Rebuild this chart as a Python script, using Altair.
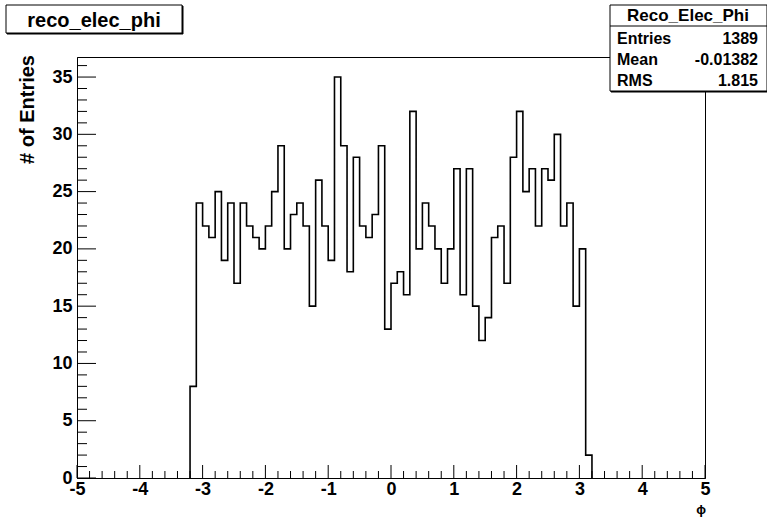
import altair as alt
import pandas as pd

# ---- data ----
bin_start = -3.2
bin_width = 0.1
counts = [8, 24, 22, 21, 25, 19, 24, 17, 24, 22, 21, 20, 22, 25, 29, 20,
          23, 24, 22, 15, 26, 22, 19, 35, 29, 18, 28, 22, 21, 23, 29, 13,
          17, 18, 16, 32, 20, 24, 22, 20, 17, 20, 27, 16, 27, 15, 12, 14,
          21, 22, 17, 28, 32, 25, 27, 22, 27, 26, 30, 22, 24, 15, 20, 2]

x_major = [-5, -4, -3, -2, -1, 0, 1, 2, 3, 4, 5]
y_major = [0, 5, 10, 15, 20, 25, 30, 35]
x_minor = [round(-5 + 0.2 * i, 1) for i in range(51) if i % 5 != 0]
y_minor = [k for k in range(0, 37) if k % 5 != 0]

hist_title = "reco_elec_phi"
stats_name = "Reco_Elec_Phi"
stats_labels = ["Entries", "Mean", "RMS"]
stats_values = ["1389", "-0.01382", "1.815"]

# ---- build step outline ----
edges = [round(bin_start + bin_width * i, 1) for i in range(len(counts) + 1)]
xs = [edges[0]] + edges[:-1] + [edges[-1]]
ys = [0] + counts + [0]
hist = pd.DataFrame({"x": xs, "y": ys, "i": list(range(len(xs)))})

W, H = 628, 421
FONT = "Liberation Sans"

xscale = alt.Scale(domain=[-5, 5], nice=False, zero=False)
yscale = alt.Scale(domain=[0, 36.75], nice=False, zero=False)

one = pd.DataFrame({"a": [0]})

axis_common = dict(ticks=False, labelFlush=False, labelOverlap=False,
                   labelFont=FONT, labelFontWeight="bold", labelFontSize=18,
                   labelColor="black", domainColor="black", grid=False,
                   labelExpr="'' + datum.value")

line = alt.Chart(hist).mark_line(
    interpolate="step-after", color="black", strokeWidth=1.6
).encode(
    x=alt.X("x:Q", scale=xscale, title=None,
            axis=alt.Axis(values=x_major, labelPadding=2, **axis_common)),
    y=alt.Y("y:Q", scale=yscale, title=None,
            axis=alt.Axis(values=y_major, labelPadding=5, **axis_common)),
    order="i:Q",
)

def xticks(vals, length):
    return alt.Chart(pd.DataFrame({"v": vals})).mark_rule(color="black", strokeWidth=1).encode(
        x=alt.X("v:Q", scale=xscale), y=alt.value(H), y2=alt.value(H - length))

def yticks(vals, length):
    return alt.Chart(pd.DataFrame({"v": vals})).mark_rule(color="black", strokeWidth=1).encode(
        y=alt.Y("v:Q", scale=yscale), x=alt.value(0), x2=alt.value(length))

def box(x1, x2, y1, y2, fill="white", stroke="black", sw=1):
    return alt.Chart(one).mark_rect(fill=fill, stroke=stroke, strokeWidth=sw).encode(
        x=alt.value(x1), x2=alt.value(x2), y=alt.value(y1), y2=alt.value(y2))

def label(text, x, y, size, align="center", baseline="alphabetic", angle=0):
    return alt.Chart(one).mark_text(
        text=text, font=FONT, fontWeight="bold", fontSize=size, color="black",
        align=align, baseline=baseline, angle=angle
    ).encode(x=alt.value(x), y=alt.value(y))

# title box (with small shadow)
title_shadow = box(-70, 106, -51, -23, fill="black", stroke="black")
title_box = box(-71, 105, -52, -24)
title_txt = label(hist_title, 17, -30, 20)

# stats box
stats_shadow = box(534, 691, -51, 35, fill="black", stroke="black")
stats_box = box(533, 690, -52, 34)
stats_sep = alt.Chart(one).mark_rule(color="black", strokeWidth=1).encode(
    x=alt.value(533), x2=alt.value(690), y=alt.value(-31))
stats_head = label(stats_name, 611, -36, 17)
row_y = [-13, 8, 29]
stats_rows = []
for lab, val, yy in zip(stats_labels, stats_values, row_y):
    stats_rows.append(label(lab, 540, yy, 16, align="left"))
    stats_rows.append(label(val, 681, yy, 16, align="right"))

ytitle = label("# of Entries", -49, -2, 20, align="right", baseline="middle", angle=270)
xtitle = label("ϕ", 624, 453, 13, baseline="middle")

chart = alt.layer(
    line,
    xticks(x_major, 13), xticks(x_minor, 7),
    yticks(y_major, 19), yticks(y_minor, 10),
    title_shadow, title_box, title_txt,
    stats_shadow, stats_box, stats_sep, stats_head, *stats_rows,
    ytitle, xtitle,
).properties(
    width=W, height=H,
    autosize=alt.AutoSizeParams(type="none"),
    padding={"left": 77, "top": 57, "right": 62, "bottom": 40},
    background="white",
).configure_view(
    stroke="black", strokeWidth=1
)

chart.save("out.html", embed_options={"renderer": "svg", "actions": False})
